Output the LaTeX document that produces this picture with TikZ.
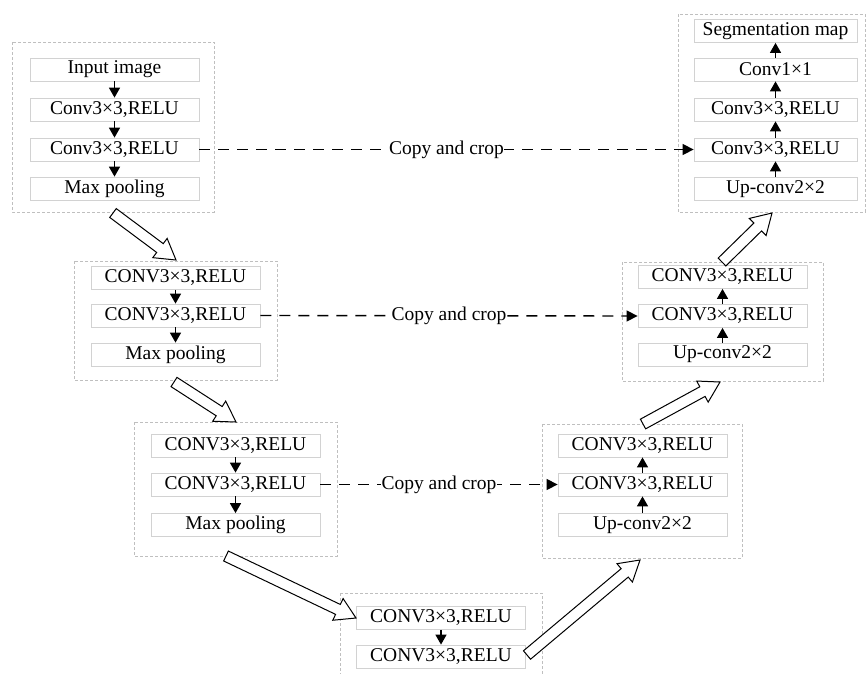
\documentclass[tikz,border=0pt]{standalone}
\usepackage{fontspec}
\setmainfont{Liberation Serif}
\usetikzlibrary{arrows.meta,calc}

\newcommand{\hollowarrow}[2]{%
\coordinate (hb) at ($(#2)!20pt!(#1)$);
\draw[hollow] ($(#1)!5.5pt!90:(#2)$) -- ($(hb)!5.5pt!-90:(#1)$) -- ($(hb)!12pt!-90:(#1)$) -- (#2)
  -- ($(hb)!12pt!90:(#1)$) -- ($(hb)!5.5pt!90:(#1)$) -- ($(#1)!5.5pt!-90:(#2)$) -- cycle;}

\begin{document}
\begin{tikzpicture}[x=1pt, y=-1pt,
  box/.style={draw=gray!35, fill=white, line width=0.8pt, minimum width=169pt, minimum height=23pt, inner sep=0pt, font=\fontsize{19.5}{21}\selectfont},
  block/.style={draw=gray!50, line width=0.6pt, dash pattern=on 3pt off 2pt},
  flow/.style={-{Triangle[width=11pt,length=10pt]}, line width=1.5pt},
  copy/.style={-{Triangle[width=11pt,length=11pt]}, line width=1.4pt, dash pattern=on 11pt off 8pt},
  lab/.style={fill=white, inner sep=0.5pt, font=\fontsize{19.5}{21}\selectfont},
  hollow/.style={draw, line width=1pt, fill=white}]
\useasboundingbox (0,0) rectangle (867,673);

\draw[block] (12,42) rectangle (214,212);
\draw[block] (74,261) rectangle (277,380);
\draw[block] (134,422) rectangle (337,556);
\draw[block] (340,593) rectangle (542,680);
\draw[block] (542,424) rectangle (742,558);
\draw[block] (622,262) rectangle (823,381);
\draw[block] (678,14) rectangle (865,212);

\node[box] (in) at (114.5,69.5) {Input image};
\node[box] (a1) at (114.5,109.5) {Conv3×3,RELU};
\node[box] (a2) at (114.5,149.5) {Conv3×3,RELU};
\node[box] (p1) at (114.5,188.5) {Max pooling};

\node[box] (b1) at (175.5,278) {CONV3×3,RELU};
\node[box] (b2) at (175.5,315.5) {CONV3×3,RELU};
\node[box] (p2) at (175.5,354.5) {Max pooling};

\node[box] (c1) at (235.5,445.5) {CONV3×3,RELU};
\node[box] (c2) at (235.5,484.5) {CONV3×3,RELU};
\node[box] (p3) at (235.5,525) {Max pooling};

\node[box] (d1) at (441,618) {CONV3×3,RELU};
\node[box] (d2) at (441,656.5) {CONV3×3,RELU};

\node[box] (e3) at (642.5,445.5) {CONV3×3,RELU};
\node[box] (e2) at (642.5,484.5) {CONV3×3,RELU};
\node[box] (u3) at (642.5,525) {Up-conv2×2};

\node[box] (f3) at (722.5,277) {CONV3×3,RELU};
\node[box] (f2) at (722.5,316) {CONV3×3,RELU};
\node[box] (u2) at (722.5,354.5) {Up-conv2×2};

\node[box, minimum width=163pt] (seg) at (775.5,31) {Segmentation map};
\node[box, minimum width=163pt] (g1) at (775.5,69.5) {Conv1×1};
\node[box, minimum width=163pt] (g3) at (775.5,109.5) {Conv3×3,RELU};
\node[box, minimum width=163pt] (g2) at (775.5,149.5) {Conv3×3,RELU};
\node[box, minimum width=163pt] (u1) at (775.5,189) {Up-conv2×2};

\draw[flow] (in) -- (a1);
\draw[flow] (a1) -- (a2);
\draw[flow] (a2) -- (p1);
\draw[flow] (b1) -- (b2);
\draw[flow] (b2) -- (p2);
\draw[flow] (c1) -- (c2);
\draw[flow] (c2) -- (p3);
\draw[flow] (d1) -- (d2);
\draw[flow] (u3) -- (e2);
\draw[flow] (e2) -- (e3);
\draw[flow] (u2) -- (f2);
\draw[flow] (f2) -- (f3);
\draw[flow] (u1) -- (g2);
\draw[flow] (g2) -- (g3);
\draw[flow] (g3) -- (g1);
\draw[flow] (g1) -- (seg);

\draw[copy] (a2.east) -- node[lab] (k1) {Copy and crop} (g2.west);
\draw[copy] (b2.east) -- node[lab] (k2) {Copy and crop} (f2.west);
\draw[copy] (c2.east) -- node[lab] (k3) {Copy and crop} (e2.west);

\coordinate (s1) at (113,213);
\coordinate (t1) at (176,260);
\coordinate (s2) at (174,382);
\coordinate (t2) at (236,422);
\coordinate (s3) at (226,556);
\coordinate (t3) at (356,618);
\coordinate (s4) at (527,655);
\coordinate (t4) at (640,560);
\coordinate (s5) at (643,424);
\coordinate (t5) at (720,382);
\coordinate (s6) at (722,262);
\coordinate (t6) at (772,213);
\hollowarrow{s1}{t1}
\hollowarrow{s2}{t2}
\hollowarrow{s3}{t3}
\hollowarrow{s4}{t4}
\hollowarrow{s5}{t5}
\hollowarrow{s6}{t6}
\end{tikzpicture}
\end{document}
